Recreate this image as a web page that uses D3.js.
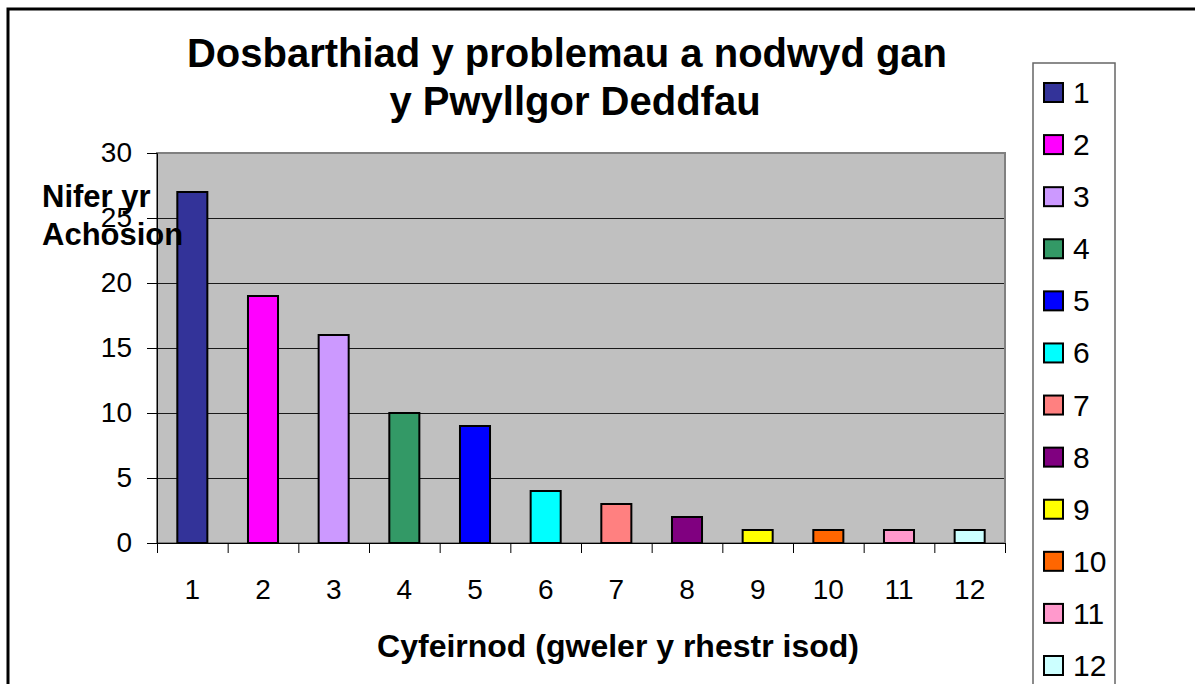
<!DOCTYPE html>
<html>
<head>
<meta charset="utf-8">
<script src="https://cdn.jsdelivr.net/npm/d3@7"></script>
<style>
  body { margin: 0; background: #fff; }
  svg { display: block; font-family: "Liberation Sans", Arial, sans-serif; }
</style>
</head>
<body>
<svg width="1195" height="684"></svg>
<script>
// data
const categories = ['1', '2', '3', '4', '5', '6', '7', '8', '9', '10', '11', '12'];
const counts = [27, 19, 16, 10, 9, 4, 3, 2, 1, 1, 1, 1];
const barColors = ['#333399', '#FF00FF', '#CC99FF', '#339966', '#0000FF', '#00FFFF',
                   '#FF8080', '#800080', '#FFFF00', '#FF6600', '#FF99CC', '#CCFFFF'];
const yTicks = [0, 5, 10, 15, 20, 25, 30];
const titleLines = ['Dosbarthiad y problemau a nodwyd gan', 'y Pwyllgor Deddfau'];
const yTitleLines = ['Nifer yr', 'Achosion'];
const xTitle = 'Cyfeirnod (gweler y rhestr isod)';

const svg = d3.select("svg");

// plot box
const plot = { left: 157, right: 1005, top: 153, bottom: 543 };

// outer frame (runs off the right and bottom edge)
svg.append("rect")
    .attr("x", 8).attr("y", 9)
    .attr("width", 1220).attr("height", 720)
    .attr("fill", "#fff").attr("stroke", "#000").attr("stroke-width", 3);

const xScale = d3.scaleBand().domain(categories)
    .range([plot.left, plot.right])
    .paddingInner(0.575).paddingOuter(0.2875);
const yScale = d3.scaleLinear().domain([0, 30]).range([plot.bottom, plot.top]);

// grey background
svg.append("rect")
    .attr("x", plot.left).attr("y", plot.top)
    .attr("width", plot.right - plot.left).attr("height", plot.bottom - plot.top)
    .attr("fill", "#C0C0C0");

// gridlines
const grid = svg.append("g").attr("transform", `translate(${plot.left},0)`)
    .call(d3.axisLeft(yScale).tickValues(yTicks.filter(d => d > 0)).tickSize(-(plot.right - plot.left)).tickFormat(""));
grid.select(".domain").remove();
grid.selectAll("line").attr("stroke", "#1a1a1a").attr("stroke-width", 1);

// plot border
svg.append("rect")
    .attr("x", plot.left).attr("y", plot.top)
    .attr("width", plot.right - plot.left).attr("height", plot.bottom - plot.top)
    .attr("fill", "none").attr("stroke", "#808080").attr("stroke-width", 2);

// bars
svg.append("g").selectAll("rect")
    .data(categories)
    .enter()
    .append("rect")
    .attr("x", d => xScale(d))
    .attr("y", (d, i) => yScale(counts[i]))
    .attr("width", xScale.bandwidth())
    .attr("height", (d, i) => yScale(0) - yScale(counts[i]))
    .attr("fill", (d, i) => barColors[i])
    .attr("stroke", "#000")
    .attr("stroke-width", 2);

// y axis
const yAxisG = svg.append("g").attr("transform", `translate(${plot.left},0)`)
    .call(d3.axisLeft(yScale).tickValues(yTicks).tickSize(10).tickPadding(15));
yAxisG.select(".domain").attr("stroke", "#000").attr("stroke-width", 1);
yAxisG.selectAll("line").attr("stroke", "#000");
yAxisG.selectAll("text").attr("font-size", "28px").attr("fill", "#000")
    .attr("font-family", "Liberation Sans, Arial, sans-serif");

// x axis: tick marks between categories
const edgeScale = d3.scaleLinear().domain([0, categories.length]).range([plot.left, plot.right]);
const xTickG = svg.append("g").attr("transform", `translate(0,${plot.bottom})`)
    .call(d3.axisBottom(edgeScale).tickValues(d3.range(0, categories.length + 1)).tickSize(10).tickFormat(""));
xTickG.select(".domain").attr("stroke", "#000");
xTickG.selectAll("line").attr("stroke", "#000");

// x axis labels
const xAxisG = svg.append("g").attr("transform", `translate(0,${plot.bottom})`)
    .call(d3.axisBottom(xScale).tickSize(0).tickPadding(36));
xAxisG.select(".domain").remove();
xAxisG.selectAll("text").attr("font-size", "28px").attr("fill", "#000")
    .attr("font-family", "Liberation Sans, Arial, sans-serif");

// title (second line sits a bit right of the first, like the original)
const titleX = [567, 575];
svg.append("g").selectAll("text")
    .data(titleLines)
    .enter()
    .append("text")
    .attr("x", (d, i) => titleX[i])
    .attr("y", (d, i) => 67 + i * 48)
    .attr("text-anchor", "middle")
    .attr("font-size", "40px")
    .attr("font-weight", "bold")
    .text(d => d);

// y axis title
svg.append("g").selectAll("text")
    .data(yTitleLines)
    .enter()
    .append("text")
    .attr("x", 42)
    .attr("y", (d, i) => 207 + i * 38)
    .attr("font-size", "31px")
    .attr("font-weight", "bold")
    .text(d => d);

// x axis title
svg.append("text")
    .attr("x", 618).attr("y", 657)
    .attr("text-anchor", "middle")
    .attr("font-size", "32px")
    .attr("font-weight", "bold")
    .text(xTitle);

// legend
const legend = svg.append("g");
legend.append("rect")
    .attr("x", 1033).attr("y", 63)
    .attr("width", 82).attr("height", 700)
    .attr("fill", "#fff").attr("stroke", "#666").attr("stroke-width", 1.5);

const legendY = d3.scalePoint().domain(categories).range([92, 665]);

const items = legend.selectAll(".item")
    .data(categories)
    .enter()
    .append("g")
    .attr("class", "item")
    .attr("transform", d => `translate(1044,${legendY(d)})`);

items.append("rect")
    .attr("x", 0).attr("y", -9)
    .attr("width", 19).attr("height", 19)
    .attr("fill", (d, i) => barColors[i])
    .attr("stroke", "#000").attr("stroke-width", 2);

items.append("text")
    .attr("x", 29).attr("y", 11)
    .attr("font-size", "30px")
    .text(d => d);
</script>
</body>
</html>
